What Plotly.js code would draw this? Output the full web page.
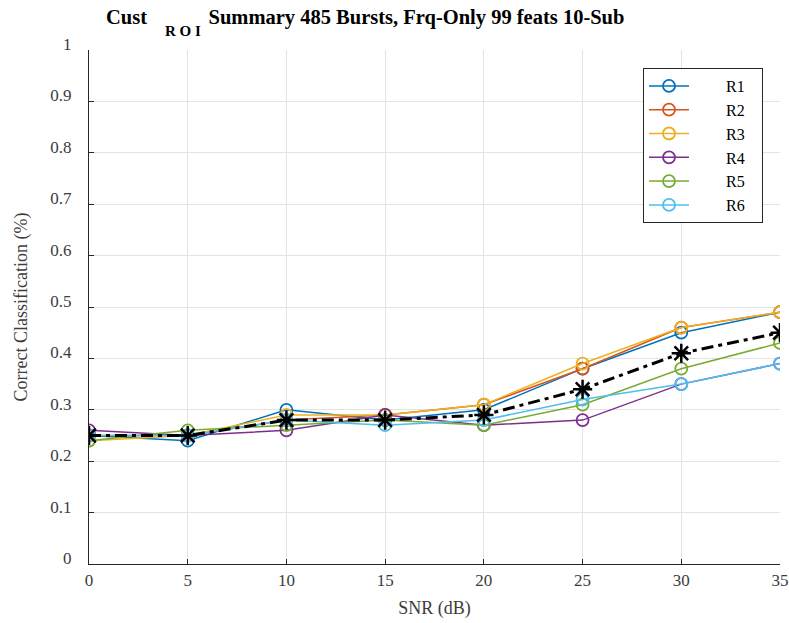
<!DOCTYPE html>
<html>
<head>
<meta charset="utf-8">
<script src="https://cdn.plot.ly/plotly-3.0.1.min.js"></script>
<style>html,body{margin:0;padding:0;background:#fff;}#chart{width:789px;height:623px;}</style>
</head>
<body>
<div id="chart"></div>
<script>
const snr = [0, 5, 10, 15, 20, 25, 30, 35];
const seriesNames = ["R1", "R2", "R3", "R4", "R5", "R6"];
const R1 = [0.25, 0.24, 0.30, 0.28, 0.30, 0.38, 0.45, 0.49];
const R2 = [0.25, 0.25, 0.28, 0.29, 0.31, 0.38, 0.46, 0.49];
const R3 = [0.24, 0.25, 0.29, 0.29, 0.31, 0.39, 0.46, 0.49];
const R4 = [0.26, 0.25, 0.26, 0.29, 0.27, 0.28, 0.35, 0.39];
const R5 = [0.24, 0.26, 0.27, 0.28, 0.27, 0.31, 0.38, 0.43];
const R6 = [0.25, 0.25, 0.28, 0.27, 0.28, 0.32, 0.35, 0.39];
const meanVals = [0.25, 0.25, 0.28, 0.28, 0.29, 0.34, 0.41, 0.45];
const colors = ["#0072BD", "#D95319", "#EDB120", "#7E2F8E", "#77AC30", "#4DBEEE"];
const yTicks = [0, 0.1, 0.2, 0.3, 0.4, 0.5, 0.6, 0.7, 0.8, 0.9, 1];
const yTickText = ["0", "0.1", "0.2", "0.3", "0.4", "0.5", "0.6", "0.7", "0.8", "0.9", "1"];
const xTicks = [0, 5, 10, 15, 20, 25, 30, 35];

const allSeries = [R1, R2, R3, R4, R5, R6];
const serif = "Liberation Serif, Times New Roman, serif";
const axisGray = "#3c3c3c";
const pad = (n) => "&nbsp;".repeat(n);
const plotW = 789 - 89 - 9;

const traces = allSeries.map((vals, i) => ({
  x: snr, y: vals, name: pad(8) + seriesNames[i] + pad(3), type: "scatter", mode: "lines+markers",
  line: {color: colors[i], width: 1.5},
  marker: {symbol: "circle-open", size: 12, color: colors[i], line: {width: 1.8, color: colors[i]}}
}));
traces.push({
  x: snr, y: meanVals, name: "Mean", type: "scatter", mode: "lines+markers", showlegend: false,
  line: {color: "#000", width: 3, dash: "12px,5px,4px,5px"},
  marker: {symbol: "asterisk-open", size: 16, color: "#000", line: {width: 2.5, color: "#000"}}
});

const layout = {
  width: 789, height: 623,
  margin: {l: 89, r: 9, t: 50, b: 59},
  paper_bgcolor: "#fff", plot_bgcolor: "#fff",
  font: {family: serif, size: 17, color: axisGray},
  title: {
    text: "<b>Cust" + pad(12) + "Summary 485 Bursts, Frq-Only 99 feats 10-Sub</b>",
    x: 106 / 789, xanchor: "left", xref: "container",
    y: 1 - 17 / 623, yanchor: "middle", yref: "container",
    font: {family: serif, size: 20.5, color: "#000"}
  },
  annotations: [{
    text: "<b>R O I</b>", xref: "paper", yref: "paper",
    x: (183 - 89) / plotW, y: (564 - 31) / 514, xanchor: "center", yanchor: "middle",
    showarrow: false, font: {family: serif, size: 15, color: "#000"}
  }],
  xaxis: {
    range: [0, 35], tickvals: xTicks, ticktext: xTicks.map(String),
    showgrid: true, gridcolor: "#e3e3e3", gridwidth: 1,
    showline: true, linecolor: "#262626", linewidth: 1.2, mirror: false,
    ticks: "inside", ticklen: 5, tickcolor: "#262626", zeroline: false,
    ticklabeloverflow: "allow",
    tickfont: {family: serif, size: 17, color: axisGray},
    title: {text: "SNR (dB)", font: {family: serif, size: 18, color: axisGray}, standoff: 12}
  },
  yaxis: {
    range: [0, 1], tickvals: yTicks, ticktext: yTickText,
    showgrid: true, gridcolor: "#e3e3e3", gridwidth: 1,
    showline: true, linecolor: "#262626", linewidth: 1.2, mirror: false,
    ticks: "inside", ticklen: 5, tickcolor: "#262626", zeroline: false,
    ticklabeloverflow: "allow", ticklabelstandoff: 13, ticklabelshift: -6,
    tickfont: {family: serif, size: 17, color: axisGray},
    title: {text: "Correct Classification (%)", font: {family: serif, size: 18, color: axisGray}, standoff: 17}
  },
  legend: {
    x: (643 - 89) / plotW, xanchor: "left", y: (564 - 68) / 514, yanchor: "top",
    bgcolor: "#fff", bordercolor: "#262626", borderwidth: 1,
    font: {family: serif, size: 16, color: "#000"},
    itemwidth: 40, tracegroupgap: 0
  },
  showlegend: true
};

Plotly.newPlot("chart", traces, layout, {displayModeBar: false, staticPlot: true});
</script>
</body>
</html>
